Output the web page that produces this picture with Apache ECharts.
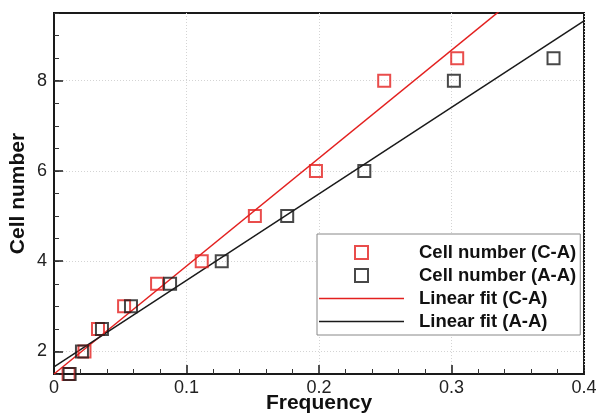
<!DOCTYPE html>
<html>
<head>
<meta charset="utf-8">
<script src="https://cdn.jsdelivr.net/npm/echarts@6/dist/echarts.min.js"></script>
<style>html,body{margin:0;padding:0;background:#fff}#c{width:597px;height:417px}</style>
</head>
<body>
<div id="c"></div>
<script>
// ---- data ----
var cellNumbers = [1.5, 2, 2.5, 3, 3.5, 4, 5, 6, 8, 8.5];
var freqCA = [0.011, 0.023, 0.0332, 0.0529, 0.0778, 0.1115, 0.1516, 0.1977, 0.2492, 0.3043];
var freqAA = [0.0118, 0.0211, 0.0362, 0.0581, 0.0876, 0.1266, 0.176, 0.2342, 0.3018, 0.377];
var fitNames = ['Linear fit (C-A)', 'Linear fit (A-A)'];
var fitIntercept = [1.5, 1.66];
var fitSlope = [23.92, 19.17];
var fitRange = [0, 0.4];
var xTicks = [0, 0.1, 0.2, 0.3, 0.4];
var yTicks = [2, 4, 6, 8];
var scatterNames = ['Cell number (C-A)', 'Cell number (A-A)'];

var RED = '#e3201f', BLACK = '#1a1a1a';
var FONT = 'Liberation Sans, Arial, Helvetica, sans-serif';
var SQUARE_ICON = 'path://M0,0H10V10H0Z';
var LINE_ICON = 'path://M0,0H85V1.6H0Z';

function pairs(xs, ys) { return xs.map(function (x, i) { return [x, ys[i]]; }); }
function fitLine(k) {
  return fitRange.map(function (x) { return [x, fitIntercept[k] + fitSlope[k] * x]; });
}

var chart = echarts.init(document.getElementById('c'), null, {renderer: 'canvas'});
chart.setOption({
  animation: false,
  backgroundColor: '#fff',
  textStyle: {fontFamily: FONT},
  grid: {left: 54, right: 13, top: 13, bottom: 43, outerBoundsMode: 'none', containLabel: false,
    show: true, borderColor: '#1a1a1a', borderWidth: 2, backgroundColor: 'transparent'},
  xAxis: {
    type: 'value', min: xTicks[0], max: xTicks[xTicks.length - 1], interval: 0.1,
    name: 'Frequency', nameLocation: 'middle', nameGap: 19, nameMoveOverlap: false,
    nameTextStyle: {fontSize: 21, fontWeight: 'bold', color: '#111', fontFamily: FONT},
    axisLine: {lineStyle: {color: '#1a1a1a', width: 2}},
    axisTick: {inside: true, length: 9, lineStyle: {color: '#1a1a1a', width: 1.5}},
    minorTick: {show: true, splitNumber: 5, length: 5, lineStyle: {color: '#333', width: 1}},
    axisLabel: {fontSize: 18, color: '#222', margin: 5, fontFamily: FONT,
      formatter: function (v) { return String(Math.round(v * 10) / 10); }},
    splitLine: {show: true, lineStyle: {color: '#d4d4d4', type: [1, 2], width: 1}}
  },
  yAxis: [{
    type: 'value', min: 1.5, max: 9.5,
    name: 'Cell number', nameLocation: 'middle', nameGap: 25, nameRotate: 90, nameMoveOverlap: false,
    nameTextStyle: {fontSize: 21, fontWeight: 'bold', color: '#111', fontFamily: FONT},
    axisLine: {lineStyle: {color: '#1a1a1a', width: 2}},
    axisTick: {inside: true, length: 9, customValues: yTicks, lineStyle: {color: '#1a1a1a', width: 1.5}},
    axisLabel: {fontSize: 18, color: '#222', margin: 7, customValues: yTicks, fontFamily: FONT},
    splitLine: {show: true, lineStyle: {color: '#d4d4d4', type: [1, 2], width: 1}}
  }, {
    type: 'value', min: 1.5, max: 9.5, interval: 0.5, position: 'left', offset: 0,
    axisLine: {show: false},
    axisTick: {inside: true, length: 5, lineStyle: {color: '#333', width: 1}},
    axisLabel: {show: false},
    splitLine: {show: false}
  }],
  legend: {
    orient: 'vertical', left: 317, top: 234,
    backgroundColor: '#fff', borderColor: '#888', borderWidth: 1,
    padding: [9, 4, 4, 2], itemWidth: 85, itemHeight: 13, itemGap: 4,
    symbolKeepAspect: true,
    textStyle: {fontSize: 18.5, fontWeight: 'bold', color: '#111', fontFamily: FONT, padding: [0, 0, 0, 10]},
    data: [
      {name: scatterNames[0], icon: SQUARE_ICON},
      {name: scatterNames[1], icon: SQUARE_ICON},
      {name: fitNames[0], icon: LINE_ICON, itemStyle: {color: RED, borderWidth: 0}},
      {name: fitNames[1], icon: LINE_ICON, itemStyle: {color: BLACK, borderWidth: 0}}
    ]
  },
  series: [
    {name: fitNames[0], type: 'line', data: fitLine(0), symbol: 'none', clip: true,
      lineStyle: {color: RED, width: 1.5}, itemStyle: {color: RED}, z: 2},
    {name: fitNames[1], type: 'line', data: fitLine(1), symbol: 'none', clip: true,
      lineStyle: {color: BLACK, width: 1.5}, itemStyle: {color: BLACK}, z: 2},
    {name: scatterNames[0], type: 'scatter', data: pairs(freqCA, cellNumbers), symbol: 'rect', symbolSize: 12,
      itemStyle: {color: 'rgba(0,0,0,0)', borderColor: RED, borderWidth: 2}, z: 3},
    {name: scatterNames[1], type: 'scatter', data: pairs(freqAA, cellNumbers), symbol: 'rect', symbolSize: 12,
      itemStyle: {color: 'rgba(0,0,0,0)', borderColor: BLACK, borderWidth: 2}, z: 4}
  ]
});
</script>
</body>
</html>
